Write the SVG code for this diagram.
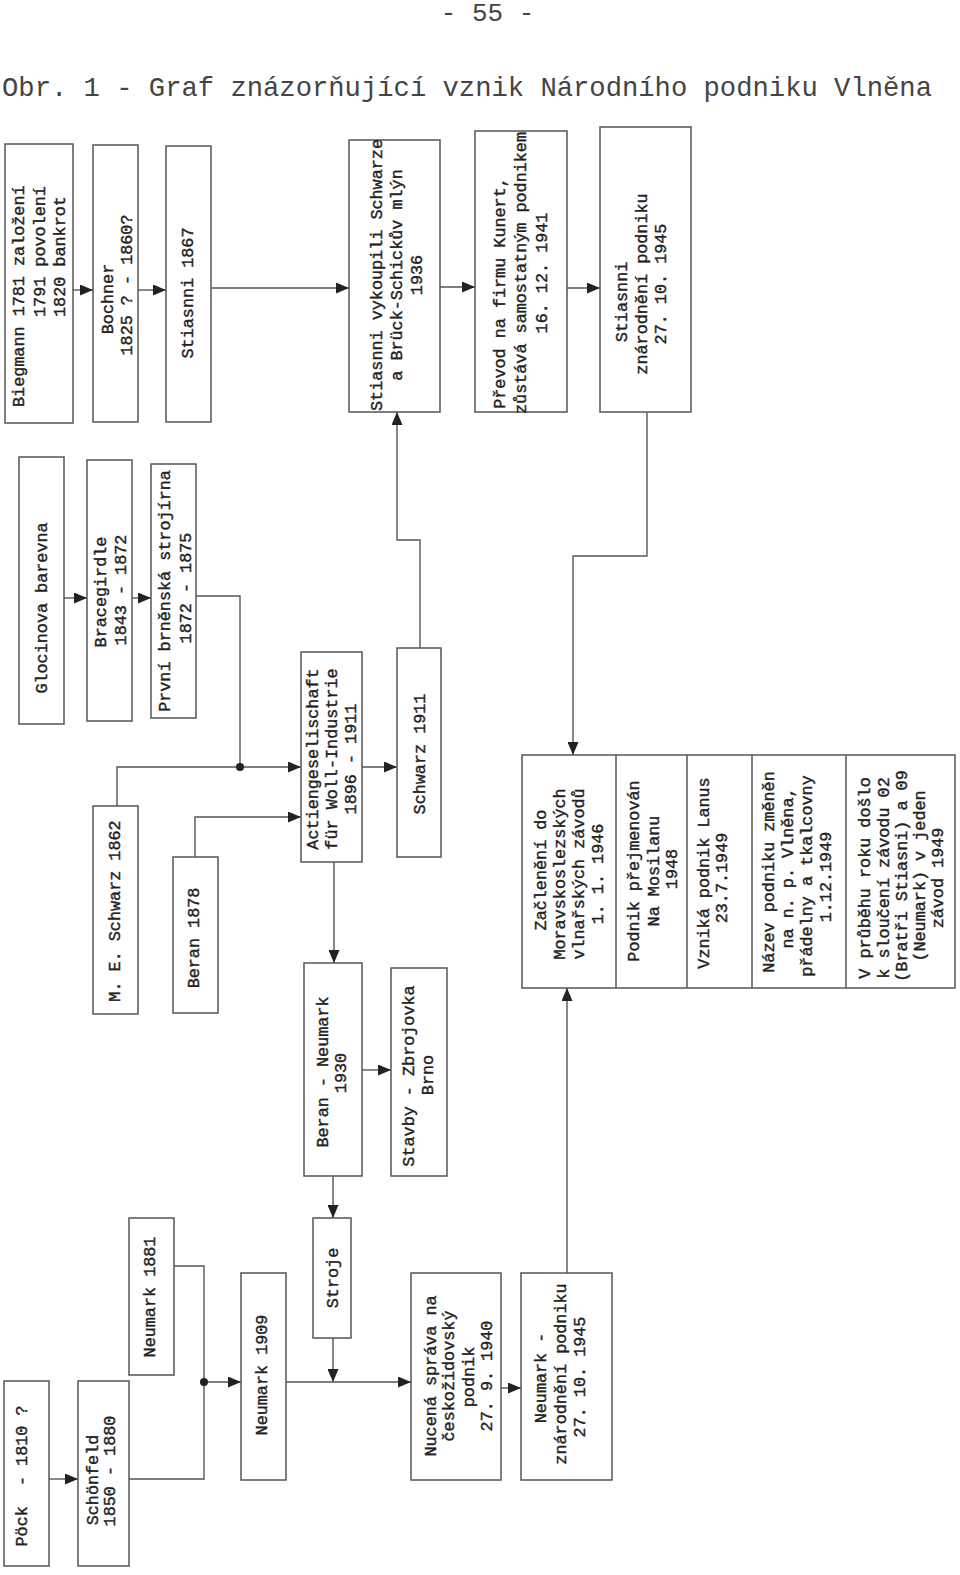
<svg xmlns="http://www.w3.org/2000/svg" width="960" height="1575" viewBox="0 0 960 1575">
<style>
.bx{fill:#fff;stroke:#555;stroke-width:1.5}
.t{font-family:"Liberation Mono","DejaVu Sans Mono",monospace;font-size:16.8px;fill:#222;stroke:#222;stroke-width:0.4;text-anchor:middle}
.ts{font-family:"Liberation Mono","DejaVu Sans Mono",monospace;font-size:16.8px;fill:#222;stroke:#222;stroke-width:0.4;text-anchor:start}
.hd{font-family:"Liberation Mono","Courier New",monospace;fill:#444}
.c{fill:none;stroke:#555;stroke-width:1.4}
.dv{stroke:#555;stroke-width:1.5}
</style>
<defs>
<marker id="ah" markerWidth="13" markerHeight="11" refX="13" refY="5.5" orient="auto" markerUnits="userSpaceOnUse">
<path d="M0,0 L13,5.5 L0,11 z" fill="#222"/>
</marker>
</defs>
<rect width="960" height="1575" fill="#fff"/>
<text class="hd" x="487.5" y="21" font-size="26" text-anchor="middle">- 55 -</text>
<text class="hd" x="2" y="96" font-size="27.2">Obr. 1 - Graf znázorňující vznik Národního podniku Vlněna</text>

<g id="connectors">
<path class="c" d="M73,290 H93" marker-end="url(#ah)"/>
<path class="c" d="M138,290 H166" marker-end="url(#ah)"/>
<path class="c" d="M211,288 H349" marker-end="url(#ah)"/>
<path class="c" d="M440,287 H475" marker-end="url(#ah)"/>
<path class="c" d="M567,288 H600" marker-end="url(#ah)"/>
<path class="c" d="M64,598 H87" marker-end="url(#ah)"/>
<path class="c" d="M132,598 H151" marker-end="url(#ah)"/>
<path class="c" d="M196,596 H240 V767"/>
<path class="c" d="M117,806 V767 H301" marker-end="url(#ah)"/>
<circle cx="240" cy="767" r="4" fill="#222"/>
<path class="c" d="M195,857 V817 H301" marker-end="url(#ah)"/>
<path class="c" d="M362,767 H397" marker-end="url(#ah)"/>
<path class="c" d="M334,862 V963" marker-end="url(#ah)"/>
<path class="c" d="M420,648 V540 H397 V412" marker-end="url(#ah)"/>
<path class="c" d="M647,412 V556 H573 V755" marker-end="url(#ah)"/>
<path class="c" d="M362,1070 H391" marker-end="url(#ah)"/>
<path class="c" d="M333,1176 V1218" marker-end="url(#ah)"/>
<path class="c" d="M333,1338 V1382" marker-end="url(#ah)"/>
<path class="c" d="M286,1382 H411" marker-end="url(#ah)"/>
<path class="c" d="M174,1266 H204 V1479 H129"/>
<path class="c" d="M204,1382 H241" marker-end="url(#ah)"/>
<circle cx="204" cy="1382" r="4" fill="#222"/>
<path class="c" d="M49,1479 H78" marker-end="url(#ah)"/>
<path class="c" d="M501,1388 H521" marker-end="url(#ah)"/>
<path class="c" d="M567,1273 V988" marker-end="url(#ah)"/>
</g>

<g id="biegmann">
<rect class="bx" x="5" y="144" width="68" height="279"/>
<text class="ts" transform="translate(24,407) rotate(-90)">Biegmann 1781 založení</text>
<text class="ts" transform="translate(44.5,317) rotate(-90)">1791 povolení</text>
<text class="ts" transform="translate(65,317) rotate(-90)">1820 bankrot</text>
</g>
<g id="bochner">
<rect class="bx" x="93" y="145" width="45" height="277"/>
<text class="t" transform="translate(113,299) rotate(-90)">Bochner</text>
<text class="t" transform="translate(132,285) rotate(-90)">1825 ? - 1860?</text>
</g>
<g id="stiasnni1867">
<rect class="bx" x="166" y="146" width="45" height="276"/>
<text class="t" transform="translate(193,293) rotate(-90)">Stiasnni 1867</text>
</g>
<g id="vykoupili">
<rect class="bx" x="349" y="140" width="91" height="272"/>
<text class="t" transform="translate(382,275) rotate(-90)">Stiasnni vykoupili Schwarze</text>
<text class="t" transform="translate(402,275) rotate(-90)">a Brück-Schickův mlýn</text>
<text class="t" transform="translate(422,275) rotate(-90)">1936</text>
</g>
<g id="prevod">
<rect class="bx" x="475" y="131" width="92" height="281"/>
<text class="t" transform="translate(505,293) rotate(-90)">Převod na firmu Kunert,</text>
<text class="t" transform="translate(526,273) rotate(-90)">zůstává samostatným podnikem</text>
<text class="t" transform="translate(547,273) rotate(-90)">16. 12. 1941</text>
</g>
<g id="stiasnni-znarodneni">
<rect class="bx" x="600" y="127" width="91" height="285"/>
<text class="t" transform="translate(627,302) rotate(-90)">Stiasnni</text>
<text class="t" transform="translate(647,284) rotate(-90)">znárodnění podniku</text>
<text class="t" transform="translate(666,284) rotate(-90)">27. 10. 1945</text>
</g>

<g id="glocinova">
<rect class="bx" x="19" y="457" width="45" height="267"/>
<text class="t" transform="translate(47,608) rotate(-90)">Glocinova barevna</text>
</g>
<g id="bracegirdle">
<rect class="bx" x="87" y="460" width="45" height="261"/>
<text class="t" transform="translate(106,592) rotate(-90)">Bracegirdle</text>
<text class="t" transform="translate(126,590) rotate(-90)">1843 - 1872</text>
</g>
<g id="prvni">
<rect class="bx" x="151" y="464" width="45" height="254"/>
<text class="t" transform="translate(170,591) rotate(-90)">První brněnská strojírna</text>
<text class="t" transform="translate(191,588) rotate(-90)">1872 - 1875</text>
</g>

<g id="me-schwarz">
<rect class="bx" x="93" y="806" width="45" height="208"/>
<text class="t" transform="translate(120,911) rotate(-90)">M. E. Schwarz 1862</text>
</g>
<g id="beran1878">
<rect class="bx" x="173" y="857" width="45" height="156"/>
<text class="t" transform="translate(199,938) rotate(-90)">Beran 1878</text>
</g>
<g id="actien">
<rect class="bx" x="301" y="652" width="61" height="210"/>
<text class="t" transform="translate(318,759) rotate(-90)">Actiengeselischaft</text>
<text class="t" transform="translate(337,759) rotate(-90)">für Woll-Industrie</text>
<text class="t" transform="translate(356,759) rotate(-90)">1896 - 1911</text>
</g>
<g id="schwarz1911">
<rect class="bx" x="397" y="648" width="44" height="209"/>
<text class="t" transform="translate(425,754) rotate(-90)">Schwarz 1911</text>
</g>
<g id="beran-neumark">
<rect class="bx" x="304" y="963" width="58" height="213"/>
<text class="t" transform="translate(328,1072) rotate(-90)">Beran - Neumark</text>
<text class="t" transform="translate(346,1073) rotate(-90)">1930</text>
</g>
<g id="stavby">
<rect class="bx" x="391" y="968" width="56" height="208"/>
<text class="t" transform="translate(414,1076) rotate(-90)">Stavby - Zbrojovka</text>
<text class="t" transform="translate(433,1075) rotate(-90)">Brno</text>
</g>
<g id="stroje">
<rect class="bx" x="313" y="1218" width="38" height="120"/>
<text class="t" transform="translate(338,1278) rotate(-90)">Stroje</text>
</g>

<g id="table">
<rect class="bx" x="522" y="755" width="433" height="233"/>
<line class="dv" x1="616" y1="755" x2="616" y2="988"/>
<line class="dv" x1="687" y1="755" x2="687" y2="988"/>
<line class="dv" x1="752" y1="755" x2="752" y2="988"/>
<line class="dv" x1="846" y1="755" x2="846" y2="988"/>
<g id="zacleneni">
<text class="t" transform="translate(546,870) rotate(-90)">Začlenění do</text>
<text class="t" transform="translate(565,874) rotate(-90)">Moravskoslezských</text>
<text class="t" transform="translate(584,874) rotate(-90)">vlnařských závodů</text>
<text class="t" transform="translate(603,874) rotate(-90)">1. 1. 1946</text>
</g>
<g id="prejmenovan">
<text class="t" transform="translate(639,871) rotate(-90)">Podnik přejmenován</text>
<text class="t" transform="translate(659,871) rotate(-90)">Na Mosilanu</text>
<text class="t" transform="translate(677,869) rotate(-90)">1948</text>
</g>
<g id="lanus">
<text class="t" transform="translate(709,873) rotate(-90)">Vzniká podnik Lanus</text>
<text class="t" transform="translate(727,878) rotate(-90)">23.7.1949</text>
</g>
<g id="vlnena">
<text class="t" transform="translate(774,872) rotate(-90)">Název podniku změněn</text>
<text class="t" transform="translate(793,868) rotate(-90)">na n. p. Vlněna,</text>
<text class="t" transform="translate(812,876) rotate(-90)">přádelny a tkalcovny</text>
<text class="t" transform="translate(831,877) rotate(-90)">1.12.1949</text>
</g>
<g id="slouceni">
<text class="t" transform="translate(870,878) rotate(-90)">V průběhu roku došlo</text>
<text class="t" transform="translate(889,878) rotate(-90)">k sloučení závodu 02</text>
<text class="t" transform="translate(907,876) rotate(-90)">(Bratři Stiasni) a 09</text>
<text class="t" transform="translate(925,876) rotate(-90)">(Neumark) v jeden</text>
<text class="t" transform="translate(943,878) rotate(-90)">závod 1949</text>
</g>
</g>

<g id="neumark1881">
<rect class="bx" x="129" y="1218" width="45" height="157"/>
<text class="t" transform="translate(155,1297) rotate(-90)">Neumark 1881</text>
</g>
<g id="pock">
<rect class="bx" x="4" y="1381" width="45" height="185"/>
<text class="t" xml:space="preserve" transform="translate(27,1476) rotate(-90)">Pöck  - 1810 ?</text>
</g>
<g id="schonfeld">
<rect class="bx" x="78" y="1381" width="51" height="185"/>
<text class="t" transform="translate(98,1480) rotate(-90)">Schönfeld</text>
<text class="t" transform="translate(115,1471) rotate(-90)">1850 - 1880</text>
</g>
<g id="neumark1909">
<rect class="bx" x="241" y="1273" width="45" height="207"/>
<text class="t" transform="translate(267,1375) rotate(-90)">Neumark 1909</text>
</g>
<g id="nucena">
<rect class="bx" x="411" y="1273" width="90" height="207"/>
<text class="t" transform="translate(436,1376) rotate(-90)">Nucená správa na</text>
<text class="t" transform="translate(454,1376) rotate(-90)">českožidovský</text>
<text class="t" transform="translate(474,1377) rotate(-90)">podnik</text>
<text class="t" transform="translate(492,1376) rotate(-90)">27. 9. 1940</text>
</g>
<g id="neumark-znarodneni">
<rect class="bx" x="521" y="1273" width="91" height="207"/>
<text class="t" transform="translate(546,1378) rotate(-90)">Neumark -</text>
<text class="t" transform="translate(566,1374) rotate(-90)">znárodnění podniku</text>
<text class="t" transform="translate(585,1377) rotate(-90)">27. 10. 1945</text>
</g>
</svg>
